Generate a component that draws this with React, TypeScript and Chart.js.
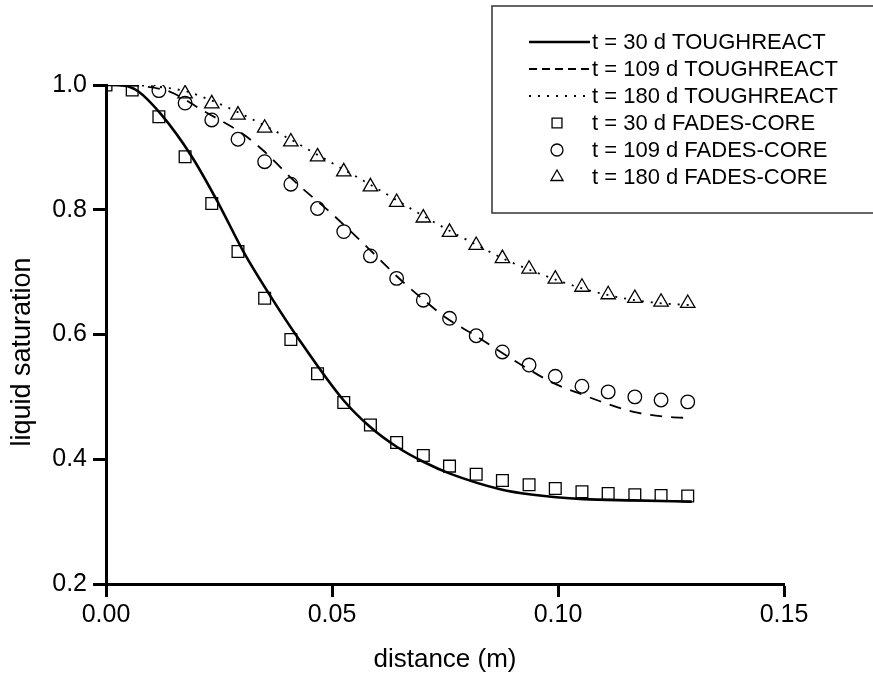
import React, { useEffect, useRef } from 'react';
import { Chart, registerables } from 'chart.js';

Chart.register(...registerables);

const FONT = '"Liberation Sans", Arial, Helvetica, sans-serif';

// Node distances (m) of the FADES-CORE results
const nodeX = [0, 0.0058, 0.0117, 0.0175, 0.0234, 0.0292, 0.0351, 0.0409, 0.0468, 0.0526, 0.0585, 0.0643, 0.0702, 0.0760, 0.0819, 0.0877, 0.0936, 0.0994, 0.1053, 0.1111, 0.1170, 0.1228, 0.1287];
const fades30 = [1.0, 0.992, 0.949, 0.885, 0.810, 0.733, 0.658, 0.592, 0.537, 0.491, 0.455, 0.427, 0.406, 0.389, 0.376, 0.366, 0.359, 0.353, 0.348, 0.345, 0.343, 0.342, 0.341];
const fades109 = [null, null, 0.991, 0.971, 0.944, 0.913, 0.877, 0.841, 0.802, 0.765, 0.726, 0.690, 0.655, 0.626, 0.598, 0.572, 0.551, 0.533, 0.517, 0.508, 0.500, 0.495, 0.492];
const fades180 = [null, null, null, 0.986, 0.970, 0.952, 0.931, 0.909, 0.885, 0.861, 0.837, 0.812, 0.787, 0.764, 0.743, 0.722, 0.705, 0.689, 0.676, 0.664, 0.658, 0.652, 0.650];

// TOUGHREACT curves
const tough30X = [0, 0.004, 0.0071, 0.0123, 0.0190, 0.0249, 0.0304, 0.0367, 0.0429, 0.0525, 0.0584, 0.0643, 0.0702, 0.0761, 0.0872, 0.0945, 0.1056, 0.1167, 0.1296];
const tough30Y = [1.0, 0.999, 0.990, 0.952, 0.885, 0.810, 0.733, 0.658, 0.590, 0.495, 0.452, 0.420, 0.396, 0.377, 0.352, 0.343, 0.336, 0.334, 0.332];
const tough109X = [0, 0.008, 0.0142, 0.0219, 0.0300, 0.0351, 0.0418, 0.0499, 0.0585, 0.0644, 0.0702, 0.0754, 0.0813, 0.0931, 0.0990, 0.1056, 0.1093, 0.1167, 0.1240, 0.1296];
const tough109Y = [1.0, 0.998, 0.989, 0.957, 0.923, 0.893, 0.845, 0.794, 0.735, 0.693, 0.656, 0.626, 0.600, 0.546, 0.522, 0.503, 0.493, 0.476, 0.468, 0.466];
const tough180X = [0, 0.008, 0.0117, 0.0176, 0.0234, 0.0293, 0.0351, 0.0410, 0.0468, 0.0527, 0.0585, 0.0644, 0.0702, 0.0761, 0.0819, 0.0878, 0.0936, 0.0995, 0.1053, 0.1112, 0.1170, 0.1229, 0.1296];
const tough180Y = [1.0, 0.999, 0.997, 0.990, 0.975, 0.956, 0.935, 0.912, 0.888, 0.864, 0.840, 0.815, 0.790, 0.766, 0.744, 0.722, 0.704, 0.688, 0.674, 0.663, 0.655, 0.650, 0.647];

const xTicks = [0, 0.05, 0.1, 0.15];
const yTicks = [0.2, 0.4, 0.6, 0.8, 1.0];

const xTitle = 'distance (m)';
const yTitle = 'liquid saturation';

const labels = [
  't = 30 d TOUGHREACT',
  't = 109 d TOUGHREACT',
  't = 180 d TOUGHREACT',
  't = 30 d FADES-CORE',
  't = 109 d FADES-CORE',
  't = 180 d FADES-CORE',
];

const zip = (xs: number[], ys: (number | null)[]) =>
  xs.map((x, i) => ({ x, y: ys[i] })).filter((p) => p.y !== null);

function drawMarker(ctx: CanvasRenderingContext2D, style: string, x: number, y: number, r: number) {
  ctx.beginPath();
  if (style === 'rect') {
    const o = Math.SQRT1_2 * r;
    ctx.rect(x - o, y - o, 2 * o, 2 * o);
  } else if (style === 'circle') {
    ctx.arc(x, y, r, 0, Math.PI * 2);
  } else {
    const h = r * 1.5;
    const w = r * Math.sqrt(3);
    ctx.moveTo(x, y - r);
    ctx.lineTo(x + w / 2, y - r + h);
    ctx.lineTo(x - w / 2, y - r + h);
    ctx.closePath();
  }
  ctx.stroke();
}

const boxLegend = {
  id: 'boxLegend',
  afterDraw(chart: any) {
    const ctx: CanvasRenderingContext2D = chart.ctx;
    ctx.save();
    // y-axis title, placed as in the reference
    ctx.fillStyle = '#000';
    ctx.font = `27px ${FONT}`;
    ctx.textAlign = 'center';
    ctx.textBaseline = 'middle';
    ctx.translate(23, 352);
    ctx.rotate(-Math.PI / 2);
    ctx.fillText(yTitle, 0, 0);
    ctx.setTransform(1, 0, 0, 1, 0, 0);

    ctx.strokeStyle = '#333';
    ctx.lineWidth = 1.5;
    ctx.setLineDash([]);
    ctx.strokeRect(492, 6, 420, 207);
    const rows = [42, 69, 96, 123, 150, 177];
    chart.data.datasets.forEach((ds: any, i: number) => {
      const y = rows[i];
      ctx.strokeStyle = '#000';
      if (ds.showLine) {
        ctx.lineWidth = ds.borderWidth;
        ctx.setLineDash(ds.legendDash || []);
        ctx.beginPath();
        ctx.moveTo(529, y);
        ctx.lineTo(590, y);
        ctx.stroke();
      } else {
        ctx.setLineDash([]);
        ctx.lineWidth = 1.3;
        drawMarker(ctx, ds.pointStyle, 557, y, ds.pointStyle === 'circle' ? 6 : 7);
      }
      ctx.setLineDash([]);
      ctx.fillStyle = '#000';
      ctx.font = `22px ${FONT}`;
      ctx.textBaseline = 'middle';
      ctx.textAlign = 'left';
      ctx.fillText(ds.label, 592, y + 1);
    });
    ctx.restore();
  },
};

export default function App() {
  const ref = useRef<HTMLCanvasElement>(null);
  useEffect(() => {
    document.body.style.margin = '0';
    if (!ref.current) return;
    const lineDs = (label: string, xs: number[], ys: number[], dash: number[], legendDash: number[], width: number) => ({
      label,
      data: zip(xs, ys),
      showLine: true,
      borderColor: '#000',
      borderWidth: width,
      borderDash: dash,
      legendDash,
      pointRadius: 0,
      cubicInterpolationMode: 'monotone',
      fill: false,
    });
    const markerDs = (label: string, ys: (number | null)[], style: string, r: number) => ({
      label,
      data: zip(nodeX, ys),
      showLine: false,
      pointStyle: style,
      pointRadius: r,
      pointBorderWidth: 1.3,
      pointBorderColor: '#000',
      pointBackgroundColor: 'rgba(0,0,0,0)',
      borderColor: '#000',
      backgroundColor: 'rgba(0,0,0,0)',
    });
    const chart = new Chart(ref.current, {
      type: 'scatter',
      data: {
        datasets: [
          lineDs(labels[0], tough30X, tough30Y, [], [], 2.6),
          lineDs(labels[1], tough109X, tough109Y, [12, 9], [8, 5], 1.8),
          lineDs(labels[2], tough180X, tough180Y, [2, 7], [2, 7], 1.8),
          markerDs(labels[3], fades30, 'rect', 8.3),
          markerDs(labels[4], fades109, 'circle', 6.8),
          markerDs(labels[5], fades180, 'triangle', 8.3),
        ] as any,
      },
      options: {
        animation: false,
        responsive: false,
        devicePixelRatio: 1,
        layout: { padding: { top: 85, right: 89, left: 0, bottom: 0 } },
        plugins: { legend: { display: false }, tooltip: { enabled: false } },
        scales: {
          x: {
            type: 'linear',
            min: 0,
            max: 0.15,
            afterBuildTicks: (s: any) => { s.ticks = xTicks.map((v) => ({ value: v })); },
            afterFit: (s: any) => { s.height = 91; },
            ticks: {
              callback: (v: any) => Number(v).toFixed(2),
              font: { size: 25, family: FONT },
              color: '#000',
              padding: 3,
              maxRotation: 0,
            },
            grid: { drawOnChartArea: false, drawTicks: true, tickLength: 13, tickWidth: 3, tickColor: '#000' },
            border: { display: true, width: 3, color: '#000' },
            title: { display: true, text: xTitle, color: '#000', font: { size: 26, family: FONT }, padding: { top: 0, bottom: 0 } },
          },
          y: {
            type: 'linear',
            min: 0.2,
            max: 1.0,
            afterBuildTicks: (s: any) => { s.ticks = yTicks.map((v) => ({ value: v })); },
            afterFit: (s: any) => { s.width = 106; },
            ticks: {
              callback: (v: any) => Number(v).toFixed(1),
              font: { size: 25, family: FONT },
              color: '#000',
              padding: 6,
            },
            grid: { drawOnChartArea: false, drawTicks: true, tickLength: 13, tickWidth: 3, tickColor: '#000' },
            border: { display: true, width: 3, color: '#000' },
            title: { display: false, text: yTitle },
          },
        },
      } as any,
      plugins: [boxLegend],
    });
    return () => chart.destroy();
  }, []);
  return <canvas ref={ref} width={873} height={675} style={{ display: 'block' }} />;
}
